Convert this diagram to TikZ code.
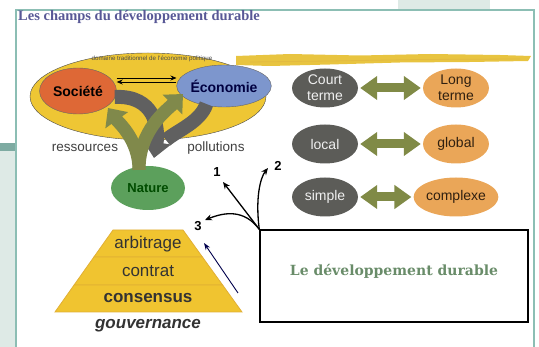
\documentclass[tikz,border=0pt]{standalone}
\usepackage{fontspec}
\setmainfont{Liberation Serif}
\setsansfont{Liberation Sans}
\newfontfamily\slabfont{DejaVu Serif}
\usetikzlibrary{arrows.meta,shapes.geometric,positioning}

\definecolor{cadrebleu}{RGB}{140,190,180}
\definecolor{panneau}{RGB}{222,234,230}
\definecolor{titrebleu}{RGB}{88,88,150}
\definecolor{jaunechamp}{RGB}{238,198,52}
\definecolor{pinceau}{RGB}{232,196,64}
\definecolor{rougesoc}{RGB}{222,104,54}
\definecolor{bleueco}{RGB}{125,150,205}
\definecolor{vertnat}{RGB}{92,160,92}
\definecolor{grisfonce}{RGB}{92,92,88}
\definecolor{orangeterme}{RGB}{234,166,88}
\definecolor{olivelien}{RGB}{128,138,70}
\definecolor{grisflux}{RGB}{96,96,96}
\definecolor{pyrjaune}{RGB}{240,196,48}
\definecolor{vertdd}{RGB}{105,140,105}

\tikzset{
  pole/.style={ellipse, draw=black!60, inner sep=0pt, font=\sffamily\bfseries\fontsize{14}{16}\selectfont},
  terme/.style={ellipse, minimum width=66pt, minimum height=39pt, inner sep=0pt, align=center,
    font=\sffamily\fontsize{14}{16}\selectfont},
  termeg/.style={terme, fill=grisfonce, text=white!88!gray},
  termed/.style={terme, fill=orangeterme, text=black!75!brown},
  lien/.style={draw=olivelien, line width=9pt, shorten <=2pt, shorten >=2pt,
    {Triangle[width=23pt,length=17pt]}-{Triangle[width=23pt,length=17pt]}},
  ressource/.style={draw=olivelien!92!gray, line width=13pt, -{Triangle[width=27pt,length=15pt]}},
  pollution/.style={draw=grisflux, line width=14pt},
  numero/.style={draw=black, line width=1.3pt, -{Stealth[length=7pt,width=6pt]}},
  chiffre/.style={font=\sffamily\bfseries\fontsize{13}{14}\selectfont},
  niveau/.style={fill=pyrjaune, draw=pyrjaune!70!brown, line width=0.8pt},
  mot/.style={font=\sffamily\fontsize{17}{19}\selectfont, text=black!80}
}

\begin{document}
\begin{tikzpicture}[x=1pt, y=-1pt, every node/.style={font=\sffamily}]
  \useasboundingbox (0,0) rectangle (539,347);
  % fond de page et cadre
  \fill[panneau] (0,143) rectangle (16,347);
  \fill[cadrebleu!90!black] (0,143) rectangle (16,151);
  \fill[panneau] (398,0) rectangle (490,9);
  \draw[cadrebleu, line width=1.2pt] (16,350) -- (16,10) -- (534,10) -- (534,350);
  \node[anchor=west, font=\rmfamily\bfseries\fontsize{14.5}{16}\selectfont, text=titrebleu, inner sep=0pt] (titre) at (18,17) {Les champs du développement durable};

  % coup de pinceau jaune
  \fill[pinceau] (236,56) -- (290,54) -- (360,55.5) -- (430,54) -- (500,55) -- (531,56)
    -- (528,61) -- (470,62) -- (400,62.5) -- (330,64.5) -- (270,66) -- (236,65) -- cycle;
  \draw[pinceau!85!brown, line width=0.8pt] (250,62) -- (330,61) -- (420,59.5) -- (520,59);

  % domaine traditionnel
  \node[ellipse, draw=black!70, fill=jaunechamp, minimum width=236pt, minimum height=87pt] (champ) at (148,96.5) {};
  \node[font=\sffamily\fontsize{6.2}{7}\selectfont, text=black!70] (domaine) at (152,59) {domaine traditionnel de l'économie politique};
  \node[pole, fill=rougesoc, minimum width=77pt, minimum height=46pt] (societe) at (78,91) {Société};
  \node[pole, fill=bleueco, minimum width=88pt, minimum height=42pt, text=black!75!blue] (economie) at (224,86) {Économie};
  \node[pole, fill=vertnat, draw=none, minimum width=74pt, minimum height=44pt, font=\sffamily\bfseries\fontsize{13}{15}\selectfont, text=black!70!green] (nature) at (148,188) {Nature};

  % échanges société / économie
  \draw[line width=0.8pt, -{Stealth[length=6pt,width=5pt]}] (societe.east |- 0,78) -- (economie.west |- 0,78);
  \draw[line width=0.8pt, -{Stealth[length=6pt,width=5pt]}] (economie.west |- 0,82) -- (societe.east |- 0,82);

  % pollutions et ressources
  \coordinate (pointe) at (154,158);
  \draw[pollution] (economie.south west) ++(16,3) .. controls +(-6,18) and +(12,-10) .. (166,140);
  \draw[pollution, -{Triangle[width=28pt,length=16pt]}] (societe.east) ++(-2,6) .. controls +(40,-2) and +(5,-30) .. (pointe);
  \draw[ressource] (nature.north) ++(-9,4) .. controls +(0,-30) and +(10,14) .. (108,108);
  \draw[ressource] (nature.north) ++(-9,4) .. controls +(0,-40) and +(-16,16) .. (183,94);
  \node[font=\sffamily\fontsize{13.5}{15}\selectfont, text=black!75] (ressources) at (85,148) {ressources};
  \node[font=\sffamily\fontsize{13.5}{15}\selectfont, text=black!75] (pollutions) at (216,148) {pollutions};

  % couples de termes
  \node[termeg] (court) at (325,88) {Court\\terme};
  \node[termed] (long) at (456,88) {Long\\terme};
  \node[termeg] (local) at (325,144) {local};
  \node[termed] (global) at (456,144) {global};
  \node[termeg] (simple) at (325,197) {simple};
  \node[termed] (complexe) at (456,197) {complexe};
  \draw[lien] (court) -- (long);
  \draw[lien] (local) -- (global);
  \draw[lien] (simple) -- (complexe);

  % le développement durable
  \node[draw=black, line width=1.4pt, minimum width=268pt, minimum height=92pt] (dd) at (394,276) {};
  \node[font=\slabfont\bfseries\fontsize{14}{16}\selectfont, text=vertdd] (ddtexte) at (394,271) {Le développement durable};
  \coordinate (un) at (223,182);
  \coordinate (deux) at (268,168);
  \coordinate (trois) at (205,220);
  \draw[numero] (dd.north west) -- (un);
  \draw[numero] (dd.north west) .. controls +(-4,-30) and +(-8,10) .. (deux);
  \draw[numero] (dd.north west) .. controls +(-15,-20) and +(20,-8) .. (trois);
  \node[chiffre] (n1) at (217,172) {1};
  \node[chiffre] (n2) at (278,166) {2};
  \node[chiffre] (n3) at (198,226) {3};

  % pyramide de la gouvernance
  \filldraw[niveau] (113,230) -- (183,230) -- (202.4,257) -- (93.9,257) -- cycle;
  \filldraw[niveau] (93.9,257) -- (202.4,257) -- (222.6,285) -- (74.1,285) -- cycle;
  \filldraw[niveau] (74.1,285) -- (222.6,285) -- (242,312) -- (55,312) -- cycle;
  \node[mot] (arbitrage) at (148,244) {arbitrage};
  \node[mot] (contrat) at (148,271) {contrat};
  \node[mot, font=\sffamily\bfseries\fontsize{17}{19}\selectfont] (consensus) at (148,298) {consensus};
  \node[mot, font=\sffamily\bfseries\itshape\fontsize{17}{19}\selectfont] (gouvernance) at (148,326) {gouvernance};
  \coordinate (gpied) at (238,293);
  \coordinate (gtete) at (204,243);
  \draw[line width=0.9pt, draw=black!70!blue, -{Stealth[length=7pt,width=5pt]}] (gpied) -- (gtete);
\end{tikzpicture}
\end{document}
